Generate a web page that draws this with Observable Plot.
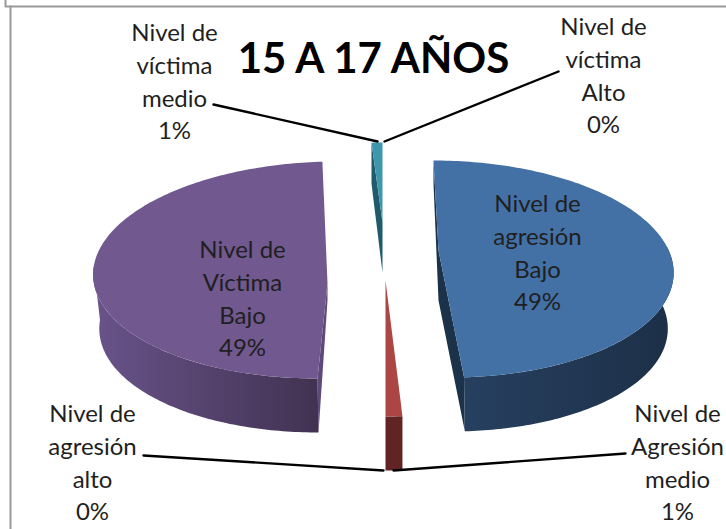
<!DOCTYPE html>
<html><head><meta charset="utf-8">
<style>html,body{margin:0;padding:0;background:#fff}svg{display:block}</style>
<script src="https://cdn.jsdelivr.net/npm/d3@7"></script>
<script src="https://cdn.jsdelivr.net/npm/@observablehq/plot@0.6"></script>
</head><body><div id="c"></div>
<script>
const title = "15 A 17 AÑOS";
const categories = ["Nivel de agresión Bajo","Nivel de Agresión medio","Nivel de agresión alto","Nivel de Víctima Bajo","Nivel de víctima medio","Nivel de víctima Alto"];
const values = [49, 1, 0, 49, 1, 0];
const labelLines = [
  ["Nivel de","agresión","Bajo","49%"],
  ["Nivel de","Agresión","medio","1%"],
  ["Nivel de","agresión","alto","0%"],
  ["Nivel de","Víctima","Bajo","49%"],
  ["Nivel de","víctima","medio","1%"],
  ["Nivel de","víctima","Alto","0%"]
];
const labelX = [537, 677, 92, 242, 174, 603];
const labelY = [204, 414, 414, 250, 33, 27];
const lineStep = 33;
const leaders = [null, [[625,453],[393,470]], [[143,455],[383,470]], null, [[213,104],[377,141]], [[558,71],[384,141]]];

// Projection of each exploded slice
const geom = [
  {cx:441, cy:268.5, rx:232, ry:108.5, s:8,   ax:438, ay:250, lcx:438, lrx:229, lcy:322.5, ls:12, apexDrop:50, backDrop:23, face:"#4371a6", cut:"#1b3249", wall:"url(#wb)", from:78},
  {cx:385, cy:280,   rx:270, ry:136,   s:0,   ax:385, ay:280, lcx:385, lrx:270, lcy:334,   ls:0,  apexDrop:0,  backDrop:0,  face:"#ab4644", cut:"#5f2423", wall:"#5f2423", from:0},
  null,
  {cx:326.8,cy:269.5,rx:234, ry:108.5, s:-9.8,ax:327, ay:283, lcx:328, lrx:229, lcy:323.5, ls:-10,apexDrop:17, backDrop:0,  face:"#71588f", cut:"#5d4a7b", wall:"url(#wp)", from:180},
  {cx:382, cy:222,   rx:175, ry:80,    s:0,   ax:382, ay:222, lcx:382, lrx:175, lcy:263,   ls:0,  apexDrop:50, backDrop:41, face:"#3f97ae", cut:"#1f5b6b", wall:null, from:0},
  null
];

const arcs = d3.pie().sort(null).value(d => d)(values);
const deg = Math.PI / 180;
function rimTop(g, a){ return [g.cx + g.rx*Math.sin(a) - g.s*Math.cos(a), g.cy - g.ry*Math.cos(a)]; }
function rimLow(g, a){ return [g.lcx + g.lrx*Math.sin(a) - g.ls*Math.cos(a), g.lcy - g.ry*Math.cos(a)]; }
function sample(a0, a1){ const n = Math.max(2, Math.ceil(Math.abs(a1-a0)/deg)); return d3.range(n+1).map(i => a0 + (a1-a0)*i/n); }
const pt = p => ({x:p[0], y:p[1]});

const x = d => d.x, y = d => d.y;
const poly = (pts, fill) => Plot.line(pts.map(pt), {x, y, fill, stroke:"none", strokeWidth:0, curve:"linear"});

const marks = [
  () => {
    const s = d3.create("svg:defs");
    const g = (id, c0, c1) => { const l = s.append("linearGradient").attr("id", id); l.append("stop").attr("offset","0").attr("stop-color",c0); l.append("stop").attr("offset","1").attr("stop-color",c1); };
    g("wb", "#274060", "#1c2f47");
    g("wp", "#69538a", "#413251");
    return s.node();
  },
  Plot.line([{x:5,y:0},{x:5,y:6},{x:726,y:6}], {x, y, stroke:"#999", strokeWidth:2}),
  Plot.line([{x:10,y:6},{x:10,y:529}], {x, y, stroke:"#999", strokeWidth:2})
];

arcs.forEach((arc, i) => {
  const g = geom[i];
  if (!g || arc.endAngle === arc.startAngle) return;
  const a0 = arc.startAngle, a1 = arc.endAngle;
  const apex = [g.ax, g.ay], apexLow = [g.ax, g.ay + g.apexDrop];
  const startTop = rimTop(g, a0), endTop = rimTop(g, a1);
  const cut = [];
  if (i === 0) cut.push(startTop, apex, endTop, rimLow(g, a1), apexLow, [startTop[0], startTop[1] + g.backDrop]);
  if (i === 3) cut.push(apex, startTop, rimLow(g, a0), apexLow);
  if (i === 4) cut.push(startTop, apex, apexLow, [startTop[0], startTop[1] + g.backDrop]);
  if (cut.length) marks.push(poly(cut, g.cut));
  if (g.wall) {
    const aw = Math.max(a0, g.from*deg);
    const up = sample(aw, i === 3 ? 272*deg : a1);
    marks.push(poly([...up.map(a => rimTop(g,a)), ...up.slice().reverse().map(a => rimLow(g,a))], g.wall));
  }
  marks.push(poly([apex, ...sample(a0,a1).map(a => rimTop(g,a))], g.face));
});

leaders.forEach(l => { if (l) marks.push(Plot.line(l.map(pt), {x, y, stroke:"#000", strokeWidth:2.4})); });

const textRows = labelLines.flatMap((ls, i) => ls.map((t, j) => ({t, x: labelX[i], y: labelY[i] + j*lineStep - (j===3 ? 1 : 0)})));
marks.push(Plot.text(textRows, {x, y, text:"t", fontFamily:"Lato", fontSize:24, fill:"#1f1f1f", textAnchor:"middle", lineAnchor:"middle"}));
marks.push(Plot.text([{t:title, x:373, y:59}], {x, y, text:"t", fontFamily:"Lato", fontWeight:"bold", fontSize:42, fill:"#000", textAnchor:"middle", lineAnchor:"middle"}));

const chart = Plot.plot({
  width:726, height:529, margin:0,
  x:{domain:[0,726], range:[0,726], axis:null},
  y:{domain:[0,529], range:[0,529], axis:null},
  style:{background:"#fff"},
  marks
});
document.getElementById("c").appendChild(chart);
</script></body></html>
